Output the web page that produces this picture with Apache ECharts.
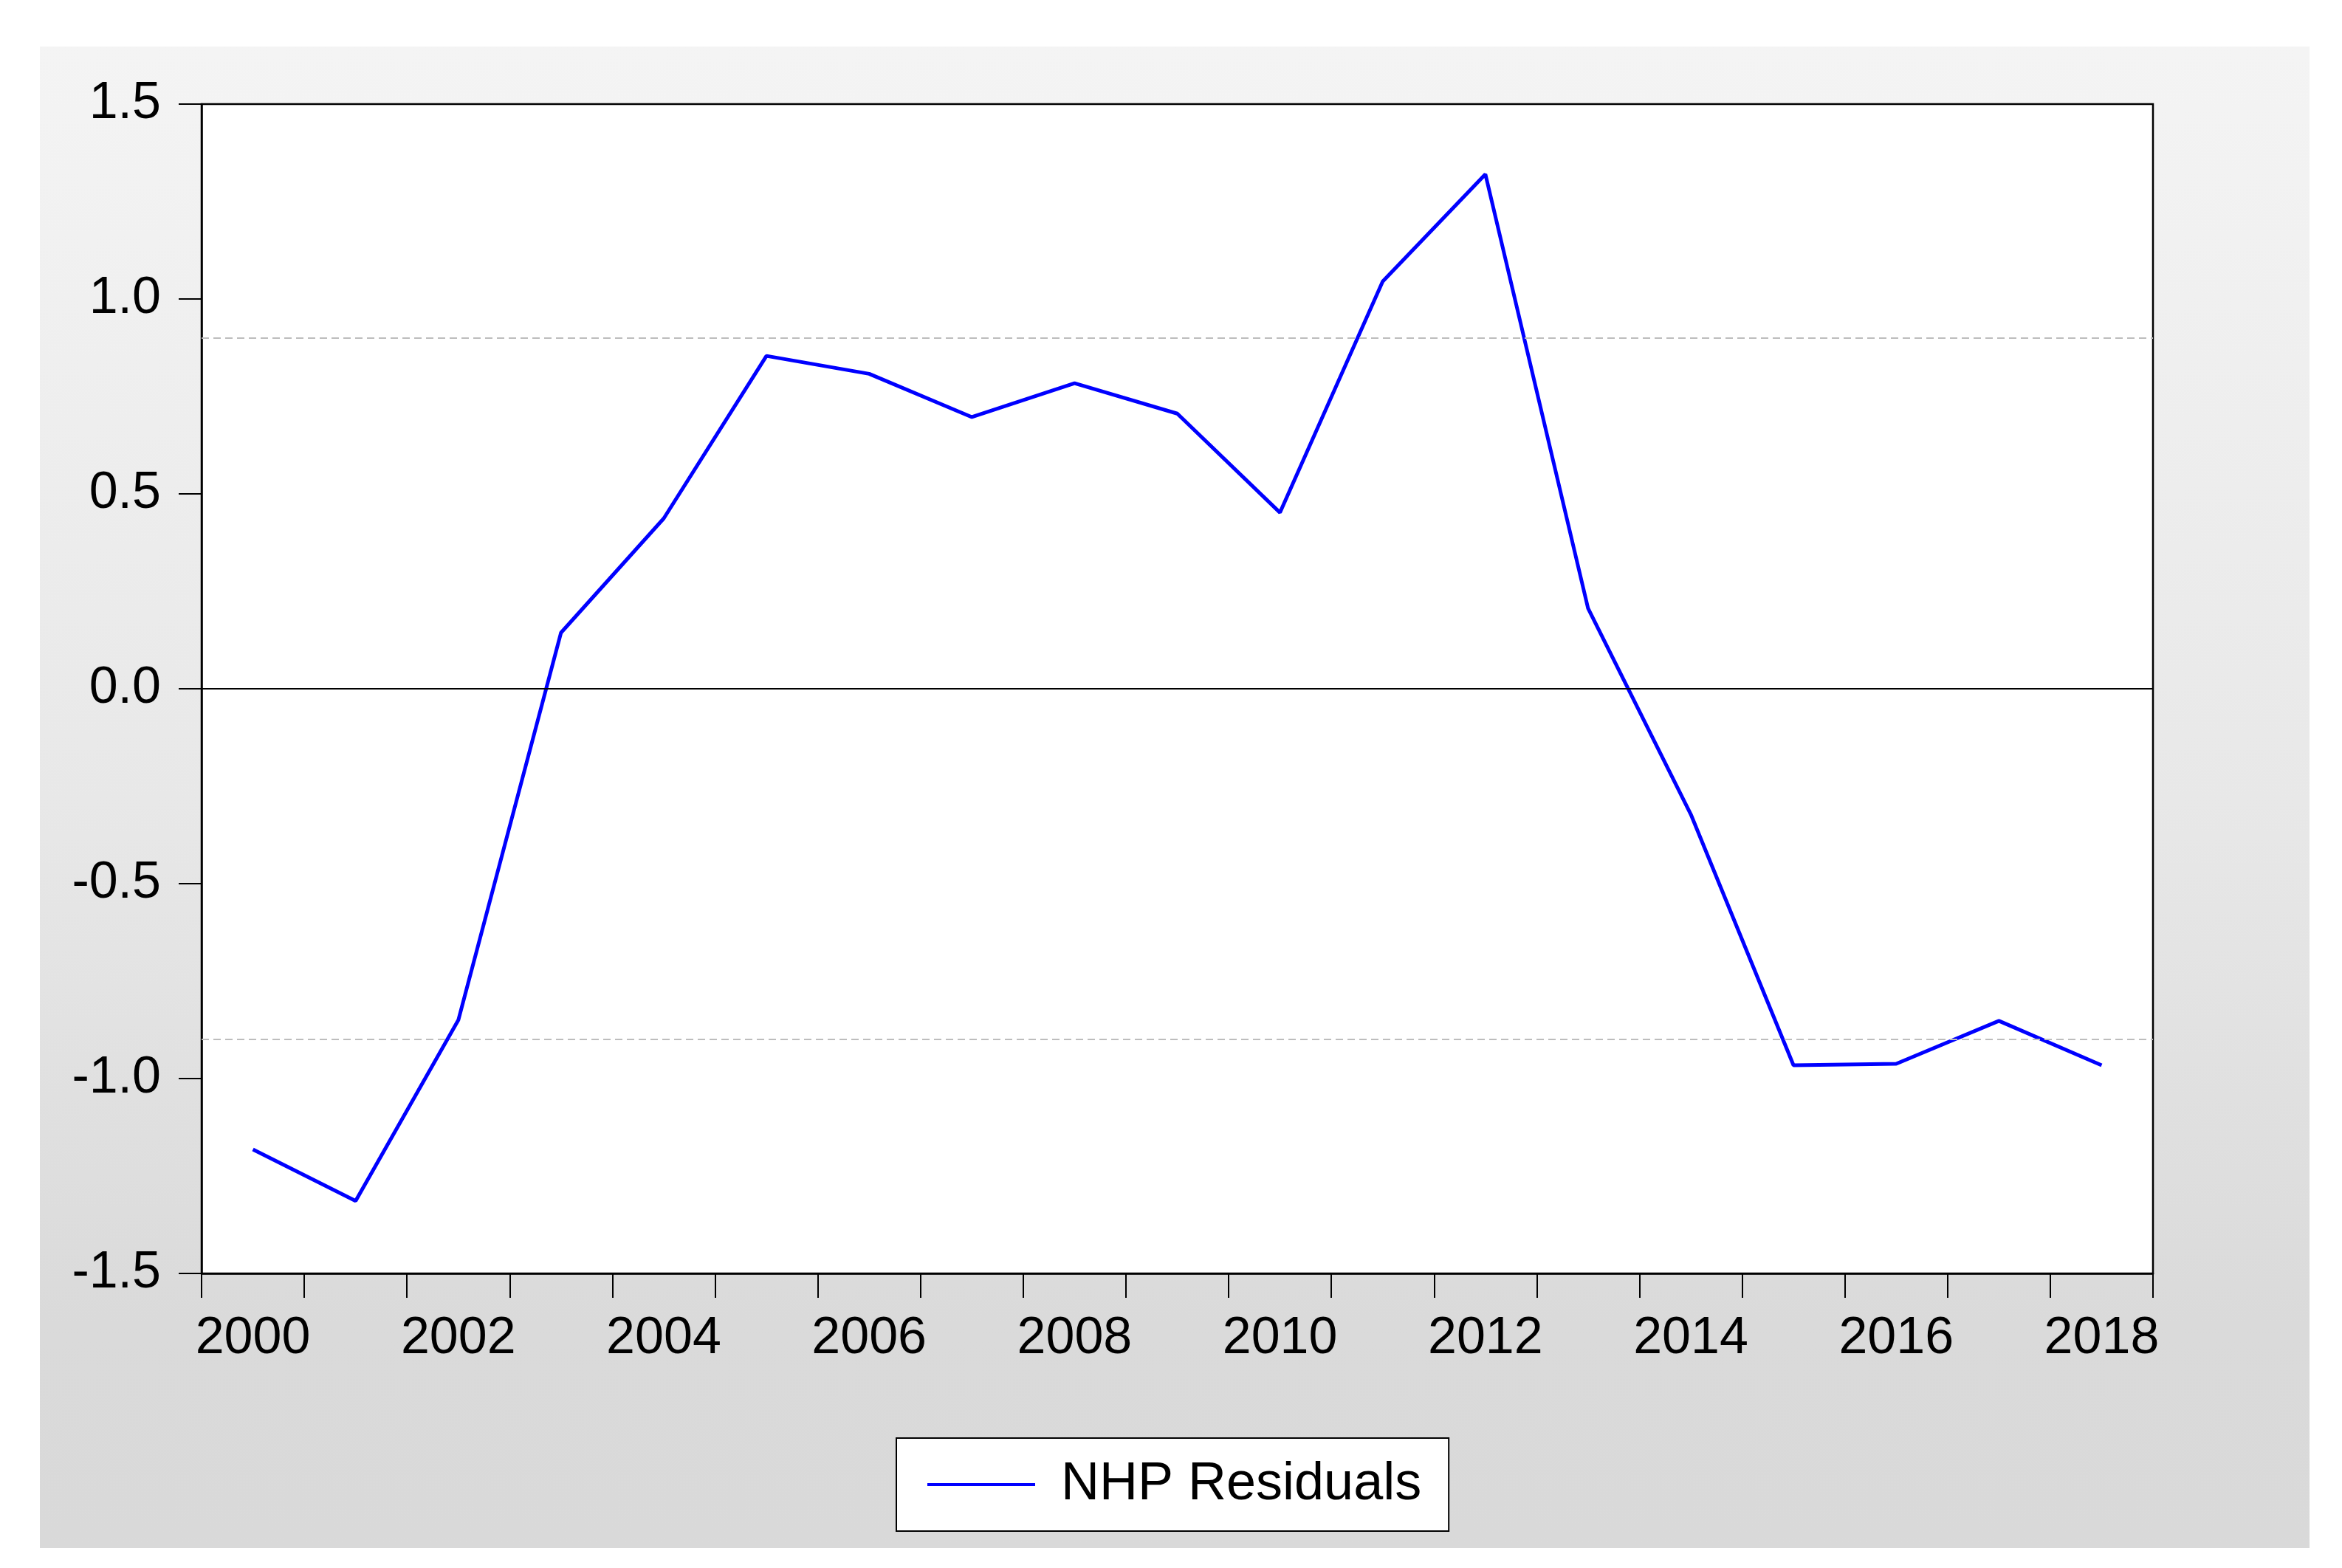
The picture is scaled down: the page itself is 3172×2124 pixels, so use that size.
<!DOCTYPE html>
<html>
<head>
<meta charset="utf-8">
<script src="https://cdn.jsdelivr.net/npm/echarts@6/dist/echarts.min.js"></script>
<style>
  html, body { margin: 0; padding: 0; background: #fff; }
  #chart { width: 3172px; height: 2124px; }
</style>
</head>
<body>
<div id="chart"></div>
<script>
"use strict";

// 年份（类目轴）
var years = ["2000", "2001", "2002", "2003", "2004", "2005", "2006", "2007", "2008", "2009",
  "2010", "2011", "2012", "2013", "2014", "2015", "2016", "2017", "2018"];
// 残差序列
var residuals = [-1.182, -1.314, -0.850, 0.144, 0.437, 0.854, 0.808, 0.697, 0.784, 0.706,
  0.452, 1.045, 1.320, 0.206, -0.322, -0.966, -0.962, -0.852, -0.966];
// 参考线
var zeroLine = [0];
var bandLines = [0.9, -0.9];
var yTicks = { min: -1.5, max: 1.5, step: 0.5 };

var FONT = "Liberation Sans, Arial, sans-serif";

var myChart = echarts.init(document.getElementById("chart"));

var markData = zeroLine.map(function (v) {
  return { yAxis: v, lineStyle: { color: "#000", width: 2, type: "solid" } };
}).concat(bandLines.map(function (v) {
  return { yAxis: v, lineStyle: { color: "#bdbdbd", width: 2, type: [10, 6] } };
}));

var option = {
  backgroundColor: "#fff",
  animation: false,
  graphic: [
    {
      type: "rect",
      z: -10,
      silent: true,
      shape: { x: 54, y: 63, width: 3074, height: 2034 },
      style: {
        fill: new echarts.graphic.LinearGradient(0, 0, 0, 1, [
          { offset: 0, color: "#f4f4f4" },
          { offset: 0.5, color: "#e8e8e8" },
          { offset: 0.85, color: "#dadada" },
          { offset: 1, color: "#d9d9d9" }
        ])
      }
    }
  ],
  grid: {
    left: 273,
    top: 141,
    right: 256,
    bottom: 399,
    show: true,
    backgroundColor: "#fff",
    borderColor: "#000",
    borderWidth: 2.5
  },
  legend: {
    left: 1214,
    top: 1948,
    padding: [27, 37, 27, 42],
    backgroundColor: "#fff",
    borderColor: "#000",
    borderWidth: 2,
    icon: "rect",
    itemWidth: 146,
    itemHeight: 4,
    textStyle: {
      fontFamily: FONT,
      fontSize: 72,
      color: "#000",
      padding: [0, 0, 0, 30]
    },
    data: ["NHP Residuals"]
  },
  xAxis: {
    type: "category",
    data: years,
    boundaryGap: true,
    axisLine: { show: true, onZero: false, lineStyle: { color: "#000", width: 2.5 } },
    axisTick: { show: true, interval: 0, length: 33, lineStyle: { color: "#000", width: 2 } },
    axisLabel: {
      interval: 1,
      margin: 54,
      fontFamily: FONT,
      fontSize: 70,
      color: "#000"
    },
    splitLine: { show: false }
  },
  yAxis: {
    type: "value",
    min: yTicks.min,
    max: yTicks.max,
    interval: yTicks.step,
    axisLine: { show: true, lineStyle: { color: "#000", width: 2.5 } },
    axisTick: { show: true, length: 31, lineStyle: { color: "#000", width: 2 } },
    axisLabel: {
      margin: 55,
      fontFamily: FONT,
      fontSize: 70,
      color: "#000",
      formatter: function (v) { return v.toFixed(1); }
    },
    splitLine: { show: false }
  },
  series: [
    {
      name: "NHP Residuals",
      type: "line",
      data: residuals,
      symbol: "none",
      lineStyle: { color: "#0000ff", width: 5 },
      itemStyle: { color: "#0000ff" },
      markLine: {
        silent: true,
        symbol: "none",
        label: { show: false },
        data: markData
      }
    }
  ]
};

myChart.setOption(option);
</script>
</body>
</html>
